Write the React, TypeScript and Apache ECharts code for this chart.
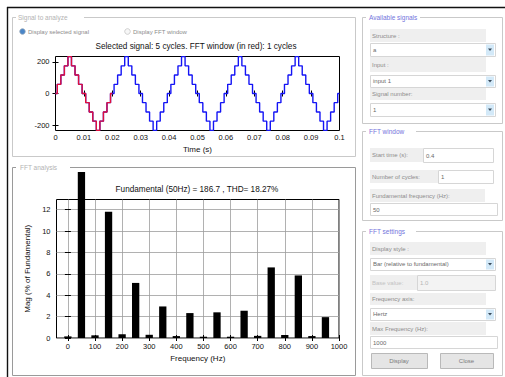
import React, { useEffect, useRef } from 'react';
import * as echarts from 'echarts';

const FONT = 'Liberation Sans, Arial, Helvetica, sans-serif';

// ---- Signal to analyze: 5 cycles of a stepped triangle, sampled every 1.25 ms
const SAMPLE_PERIOD_S = 0.00125;
const SIGNAL_VALUES = [
  0, 58, 117, 175, 233, 175, 117, 58, 0, -58, -117, -175, -233, -175, -117, -58,
  0, 58, 117, 175, 233, 175, 117, 58, 0, -58, -117, -175, -233, -175, -117, -58,
  0, 58, 117, 175, 233, 175, 117, 58, 0, -58, -117, -175, -233, -175, -117, -58,
  0, 58, 117, 175, 233, 175, 117, 58, 0, -58, -117, -175, -233, -175, -117, -58,
  0, 58, 117, 175, 233, 175, 117, 58, 0, -58, -117, -175, -233, -175, -117, -58,
  0,
];
const FFT_WINDOW_SAMPLES = 17; // first cycle (0 .. 0.02 s), drawn in red
const TIME_TICKS = [0, 0.01, 0.02, 0.03, 0.04, 0.05, 0.06, 0.07, 0.08, 0.09, 0.1];
const SIGNAL_TICKS = [-200, 0, 200];

// ---- FFT analysis
const HARMONIC_FREQ_HZ = [0, 50, 100, 150, 200, 250, 300, 350, 400, 450, 500, 550, 600, 650, 700, 750, 800, 850, 900, 950];
const HARMONIC_MAG_PCT = [0.15, 100, 0.25, 11.8, 0.35, 5.15, 0.3, 2.95, 0.18, 2.33, 0.12, 2.4, 0.12, 2.55, 0.2, 6.6, 0.28, 5.85, 0.18, 1.95];
const FREQ_TICKS = [0, 100, 200, 300, 400, 500, 600, 700, 800, 900, 1000];
const MAG_TICKS = [0, 2, 4, 6, 8, 10, 12];

const TOP_TITLE = 'Selected signal: 5 cycles. FFT window (in red): 1 cycles';
const FFT_TITLE = 'Fundamental (50Hz) = 186.7 , THD= 18.27%';

const LABEL_GRAY = '#8c8c8c';
const PANEL_LINE = '#c9c9c9';
const BLUE_TITLE = '#7474dc';

function panelBorder(x: number, y: number, w: number, h: number, t0: number, t1: number, color = PANEL_LINE) {
  return {
    type: 'polyline',
    silent: true,
    shape: { points: [[t1, y], [x + w, y], [x + w, y + h], [x, y + h], [x, y], [t0, y]] },
    style: { stroke: color, fill: 'none', lineWidth: 1 },
  };
}
function txt(x: number, y: number, text: string, size: number, color: string, align = 'left') {
  return {
    type: 'text', silent: true, x, y,
    style: { text, fontSize: size, fontFamily: FONT, fill: color, align, verticalAlign: 'middle' },
  };
}
function box(x: number, y: number, w: number, h: number, fill: string, stroke?: string) {
  return {
    type: 'rect', silent: true,
    shape: { x, y, width: w, height: h },
    style: { fill, stroke: stroke || 'none', lineWidth: 1 },
  };
}
function label(x: number, y: number, w: number, h: number, text: string, color = LABEL_GRAY) {
  return [box(x, y, w, h, '#efefef'), txt(x + 2, y + h / 2, text, 6, color)];
}
function dropdown(x: number, y: number, w: number, h: number, text: string) {
  const bx = x + w - 9;
  const cy = y + h / 2;
  return [
    box(x + 0.5, y + 0.5, w, h, '#ffffff', '#d6d6d6'),
    txt(x + 3, cy, text, 6, '#6a6a6a'),
    box(bx, y + 1.5, 8, h - 2, '#d3e9f8'),
    {
      type: 'polygon', silent: true,
      shape: { points: [[bx + 2, cy - 1], [bx + 6, cy - 1], [bx + 4, cy + 1.5]] },
      style: { fill: '#3a4a5a' },
    },
  ];
}
function input(x: number, y: number, w: number, h: number, text: string, color = '#6a6a6a', fill = '#ffffff') {
  return [box(x + 0.5, y + 0.5, w, h, fill, '#d6d6d6'), txt(x + 3, y + h / 2 + 0.5, text, 6, color)];
}
function button(x: number, y: number, w: number, h: number, text: string) {
  return [box(x + 0.5, y + 0.5, w, h, '#e5e5e5', '#b9b9b9'), txt(x + w / 2, y + h / 2 + 0.5, text, 6, '#7a7a7a', 'center')];
}

function buildGui() {
  const g: any[] = [];
  // outer frame
  g.push({ type: 'line', silent: true, shape: { x1: 7, y1: 7.5, x2: 505, y2: 7.5 }, style: { stroke: '#111', lineWidth: 1.4 } });
  g.push({ type: 'line', silent: true, shape: { x1: 7.5, y1: 7, x2: 7.5, y2: 377 }, style: { stroke: '#111', lineWidth: 1.4 } });

  // left panels
  g.push(panelBorder(12.5, 17.5, 343, 139, 16, 84));
  g.push(txt(18, 17.5, 'Signal to analyze', 6.5, '#b3b3b3'));
  g.push(panelBorder(12.5, 167.5, 343, 208, 16, 70, '#9a9a9a'));
  g.push(txt(20, 167.5, 'FFT analysis', 6.5, '#b3b3b3'));

  // radio buttons
  g.push({ type: 'circle', silent: true, shape: { cx: 22.5, cy: 31.5, r: 2.8 }, style: { fill: '#4a86c8', stroke: '#9ab', lineWidth: 0.8 } });
  g.push(txt(28, 31.5, 'Display selected signal', 6, LABEL_GRAY));
  g.push({ type: 'circle', silent: true, shape: { cx: 127.5, cy: 31.5, r: 2.8 }, style: { fill: '#f7f7f7', stroke: '#c4c4c4', lineWidth: 0.8 } });
  g.push(txt(133, 31.5, 'Display FFT window', 6, LABEL_GRAY));

  // title of the signal plot
  g.push(txt(196, 46, TOP_TITLE, 8.2, '#111', 'center'));

  // Available signals
  g.push(panelBorder(362.5, 17.5, 140, 106, 366, 420));
  g.push(txt(369, 17.5, 'Available signals', 6.5, BLUE_TITLE));
  g.push(...label(370, 29, 116, 13, 'Structure :'));
  g.push(...dropdown(370, 43, 125, 13, 'a'));
  g.push(...label(370, 57, 116, 15, 'Input :'));
  g.push(...dropdown(370, 75, 125, 12, 'input 1'));
  g.push(...label(370, 88, 116, 12, 'Signal number:'));
  g.push(...dropdown(370, 103, 125, 13, '1'));

  // FFT window
  g.push(panelBorder(362.5, 131.5, 140, 89, 366, 416));
  g.push(txt(369, 131.5, 'FFT window', 6.5, BLUE_TITLE));
  g.push(...label(370, 148, 53, 14, 'Start time (s):'));
  g.push(...input(423, 148, 70, 14, '0.4'));
  g.push(...label(370, 170, 68, 13, 'Number of cycles:'));
  g.push(...input(438, 170, 55, 13, '1'));
  g.push(...label(370, 189, 115, 13, 'Fundamental frequency (Hz):'));
  g.push(...input(370, 203, 127, 12, '50'));

  // FFT settings
  g.push(panelBorder(362.5, 231.5, 140, 144, 366, 416));
  g.push(txt(369, 231.5, 'FFT settings', 6.5, BLUE_TITLE));
  g.push(...label(370, 242, 116, 13, 'Display style :'));
  g.push(...dropdown(370, 258, 125, 12, 'Bar (relative to fundamental)'));
  g.push(...label(370, 275, 47, 15, 'Base value:', '#c2c2c2'));
  g.push(...input(417, 275, 78, 15, '1.0', '#b5b5b5', '#f3f3f3'));
  g.push(...label(370, 293, 116, 12, 'Frequency axis:'));
  g.push(...dropdown(370, 308, 125, 12, 'Hertz'));
  g.push(...label(370, 322, 116, 13, 'Max Frequency (Hz):'));
  g.push(...input(370, 336, 127, 12, '1000'));
  g.push(...button(371, 353, 56, 15, 'Display'));
  g.push(...button(440, 353, 53, 15, 'Close'));
  return g;
}

const plain = (v: number) => String(Math.round(v * 1000) / 1000);
const tickLabel = { color: '#111', fontSize: 7.5, fontFamily: FONT, formatter: plain };

function mainOption(): any {
  const blue = SIGNAL_VALUES.map((v, i) => [i * SAMPLE_PERIOD_S, v]);
  const red = blue.slice(0, FFT_WINDOW_SAMPLES);
  return {
    animation: false,
    backgroundColor: '#ffffff',
    graphic: buildGui(),
    grid: [{ left: 55.5, top: 56.5, width: 284, height: 74, show: true, borderColor: '#000', borderWidth: 1, backgroundColor: 'transparent' }],
    xAxis: [
      {
        type: 'value', min: 0, max: 0.1,
        axisLine: { show: false },
        axisTick: { inside: true, length: 3, customValues: TIME_TICKS, lineStyle: { color: '#000' } },
        axisLabel: { ...tickLabel, margin: 3, customValues: TIME_TICKS },
        splitLine: { show: false },
        name: 'Time (s)', nameLocation: 'middle', nameGap: 15,
        nameTextStyle: { color: '#111', fontSize: 8, fontFamily: FONT },
      },
      {
        type: 'value', position: 'top', min: 0, max: 0.1,
        axisLine: { show: false }, axisLabel: { show: false }, splitLine: { show: false },
        axisTick: { inside: true, length: 3, customValues: TIME_TICKS, lineStyle: { color: '#000' } },
      },
    ],
    yAxis: [
      {
        type: 'value', min: -234, max: 234,
        axisLine: { show: false },
        axisTick: { inside: true, length: 3, customValues: SIGNAL_TICKS, lineStyle: { color: '#000' } },
        axisLabel: { ...tickLabel, margin: 6, customValues: SIGNAL_TICKS },
        splitLine: { show: false },
      },
      {
        type: 'value', position: 'right', min: -234, max: 234,
        axisLine: { show: false }, axisLabel: { show: false }, splitLine: { show: false },
        axisTick: { inside: true, length: 3, customValues: SIGNAL_TICKS, lineStyle: { color: '#000' } },
      },
    ],
    series: [
      {
        type: 'line', data: blue, step: 'middle', showSymbol: false, symbol: 'none',
        lineStyle: { color: '#1414f5', width: 1.4 }, xAxisIndex: 0, yAxisIndex: 0, z: 2,
      },
      {
        type: 'line', data: red, step: 'middle', showSymbol: false, symbol: 'none',
        lineStyle: { color: '#e0103c', width: 1.4 }, xAxisIndex: 0, yAxisIndex: 0, z: 3,
      },
    ],
  };
}

const BAR_DIV_TOP = 172;

function fftOption(): any {
  const data = HARMONIC_FREQ_HZ.map((f, i) => [f, HARMONIC_MAG_PCT[i]]);
  const gridTop = 199.5 - BAR_DIV_TOP;
  return {
    animation: false,
    graphic: [
      {
        type: 'text', silent: true, x: 197, y: 189 - BAR_DIV_TOP,
        style: { text: FFT_TITLE, fontSize: 8.2, fontFamily: FONT, fill: '#111', align: 'center', verticalAlign: 'middle' },
      },
    ],
    grid: [{ left: 56.5, top: gridTop, width: 282.5, height: 138.5, show: true, borderColor: '#000', borderWidth: 1, backgroundColor: 'transparent' }],
    xAxis: [
      {
        type: 'value', min: -42, max: 1000,
        axisLine: { show: false },
        axisTick: { inside: true, length: 3, customValues: FREQ_TICKS, lineStyle: { color: '#000' } },
        axisLabel: { ...tickLabel, margin: 4, customValues: FREQ_TICKS },
        splitLine: { show: true, customValues: FREQ_TICKS, lineStyle: { color: '#9d9d9d', width: 0.8 } },
        name: 'Frequency (Hz)', nameLocation: 'middle', nameGap: 13.5,
        nameTextStyle: { color: '#111', fontSize: 8, fontFamily: FONT },
      },
      {
        type: 'value', position: 'top', min: -42, max: 1000,
        axisLine: { show: false }, axisLabel: { show: false }, splitLine: { show: false },
        axisTick: { inside: true, length: 3, customValues: FREQ_TICKS, lineStyle: { color: '#000' } },
      },
    ],
    yAxis: [
      {
        type: 'value', min: 0, max: 12.95,
        axisLine: { show: false },
        axisTick: { inside: true, length: 3, customValues: MAG_TICKS, lineStyle: { color: '#000' } },
        axisLabel: { ...tickLabel, margin: 6, customValues: MAG_TICKS },
        splitLine: { show: true, customValues: MAG_TICKS, lineStyle: { color: '#9d9d9d', width: 0.8 } },
        name: 'Mag (% of Fundamental)', nameLocation: 'middle', nameGap: 17, nameRotate: 90,
        nameTextStyle: { color: '#111', fontSize: 8, fontFamily: FONT },
      },
      {
        type: 'value', position: 'right', min: 0, max: 12.95,
        axisLine: { show: false }, axisLabel: { show: false }, splitLine: { show: false },
        axisTick: { inside: true, length: 3, customValues: MAG_TICKS, lineStyle: { color: '#000' } },
      },
    ],
    series: [
      {
        type: 'bar', data, barWidth: 7.3, clip: false,
        itemStyle: { color: '#000' }, xAxisIndex: 0, yAxisIndex: 0,
      },
    ],
  };
}

export default function App() {
  const mainRef = useRef<HTMLDivElement>(null);
  const fftRef = useRef<HTMLDivElement>(null);
  useEffect(() => {
    document.body.style.margin = '0';
    const c1 = echarts.init(mainRef.current!, undefined, { renderer: 'svg' });
    c1.setOption(mainOption());
    const c2 = echarts.init(fftRef.current!, undefined, { renderer: 'svg' });
    c2.setOption(fftOption());
    return () => {
      c1.dispose();
      c2.dispose();
    };
  }, []);
  return (
    <div style={{ position: 'fixed', left: 0, top: 0, width: 505, height: 377, background: '#fff' }}>
      <div ref={mainRef} style={{ position: 'absolute', left: 0, top: 0, width: 505, height: 377 }} />
      <div
        ref={fftRef}
        style={{ position: 'absolute', left: 0, top: BAR_DIV_TOP, width: 356, height: 377 - BAR_DIV_TOP, overflow: 'hidden' }}
      />
    </div>
  );
}
